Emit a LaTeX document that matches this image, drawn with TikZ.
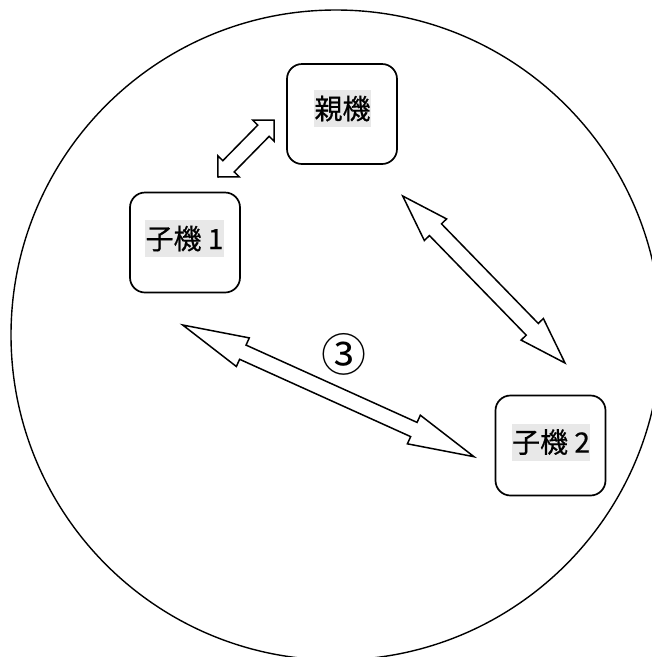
\documentclass[tikz,border=0pt]{standalone}
\usepackage{fontspec}
\newfontfamily\jp[FakeBold=0.6]{Noto Sans CJK JP}
\newfontfamily\jpn{Noto Sans CJK JP}
\usetikzlibrary{calc}
\newcommand\dblarrow[5]{%
  \path ($(#1)!#3!(#2)$) coordinate (hA) ($(#2)!#3!(#1)$) coordinate (hB);
  \draw[blk] (#1) -- ($(hA)!#4!90:(#2)$) -- ($(hA)!#5!90:(#2)$)
    -- ($(hB)!#5!-90:(#1)$) -- ($(hB)!#4!-90:(#1)$) -- (#2)
    -- ($(hB)!#4!90:(#1)$) -- ($(hB)!#5!90:(#1)$)
    -- ($(hA)!#5!-90:(#2)$) -- ($(hA)!#4!-90:(#2)$) -- cycle;}
\begin{document}
\begin{tikzpicture}[x=1pt,y=-1pt,
  box/.style={draw, line width=1.7pt, rounded corners=15pt, minimum width=110pt, minimum height=100pt, inner sep=0pt},
  lbl/.style={fill=gray!18, inner xsep=0.5pt, inner ysep=0pt, minimum height=37pt, font=\jp\fontsize{28}{32}\selectfont},
  blk/.style={draw, line width=1.5pt, fill=white, line join=miter},
  num/.style={font=\jpn\fontsize{45}{50}\selectfont, inner sep=0pt}
]
\useasboundingbox (0,0) rectangle (652,657);
\begin{scope}
\clip (0,0) rectangle (652,657);
\draw[line width=1.4pt] (336,335) circle[radius=325pt];
\end{scope}

\node[box] (oya) at (342,114) {};
\node[box] (ko1) at (185,242.5) {};
\node[box] (ko2) at (550.5,445.5) {};
\node[lbl] (oyaT) at (342.5,108.5) {親機};
\node[lbl] (ko1T) at (184.5,238.5) {子機 1};
\node[lbl] (ko2T) at (551,442) {子機 2};

\coordinate (a1) at (218,177); \coordinate (a2) at (274,120);
\coordinate (b1) at (402.7,196); \coordinate (b2) at (565,363);
\coordinate (c1) at (182.7,325); \coordinate (c2) at (474,456.7);
\dblarrow{a1}{a2}{15pt}{15pt}{8pt}
\dblarrow{b1}{b2}{47pt}{15.5pt}{8.4pt}
\dblarrow{c1}{c2}{66pt}{15.7pt}{7.8pt}

\node[num] (three) at (343.5,354) {③};
\end{tikzpicture}
\end{document}
